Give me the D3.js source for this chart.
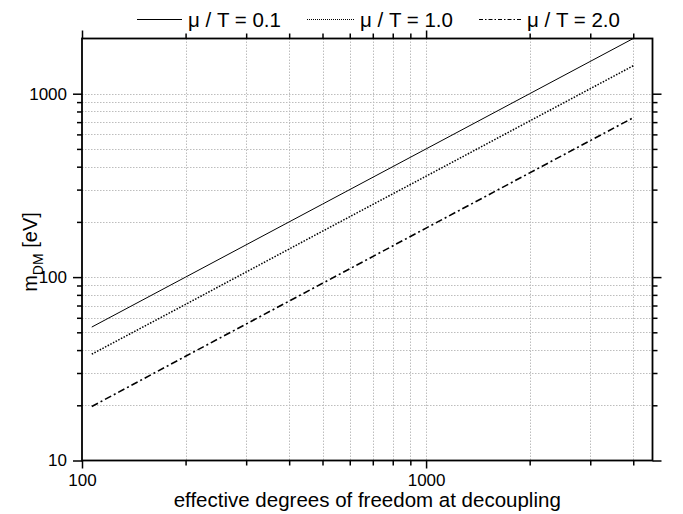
<!DOCTYPE html>
<html>
<head>
<meta charset="utf-8">
<script src="https://cdn.jsdelivr.net/npm/d3@7"></script>
<style>
  html, body { margin: 0; padding: 0; background: #fff; }
  svg { display: block; }
  text { font-family: "Liberation Sans", Arial, sans-serif; fill: #000; }
</style>
</head>
<body>
<svg id="chart" width="683" height="514"></svg>
<script>
// effective degrees of freedom at decoupling (g*)
const gStar = [106.75, 200, 500, 1000, 2000, 4000];
// dark matter mass in eV for each chemical potential ratio
const mMu01 = [53.4, 100, 250, 500, 1000, 2000];
const mMu10 = [38.0, 71, 178, 355, 710, 1420];
const mMu20 = [19.7, 37, 92.5, 185, 370, 740];
const seriesNames = ["μ / T = 0.1", "μ / T = 1.0", "μ / T = 2.0"];

const xMajor = [100, 1000];
const xMinor = [200, 300, 400, 500, 600, 700, 800, 900, 2000, 3000, 4000];
const yMajor = [10, 100, 1000];
const yMinor = [20, 30, 40, 50, 60, 70, 80, 90, 200, 300, 400, 500, 600, 700, 800, 900];

const svg = d3.select("#chart");
const L = 82, R = 652.5, T = 38.5, B = 460.5;

const x = d3.scaleLog().domain([100, 4550]).range([L, R]);
const y = d3.scaleLog().domain([10, 2000]).range([B, T]);

// grid
const grid = svg.append("g").attr("stroke", "#bdbdbd").attr("stroke-width", 1)
  .attr("stroke-dasharray", "1.5,1.5");
grid.selectAll("line.gx").data(xMinor.concat([1000])).join("line")
  .attr("x1", d => Math.round(x(d)) + 0.5).attr("x2", d => Math.round(x(d)) + 0.5)
  .attr("y1", T).attr("y2", B);
grid.selectAll("line.gy").data(yMinor.concat([100, 1000])).join("line")
  .attr("y1", d => Math.round(y(d)) + 0.5).attr("y2", d => Math.round(y(d)) + 0.5)
  .attr("x1", L).attr("x2", R);

// curves
const styles = [
  { dash: null, width: 1 },
  { dash: "1.5,1.5", width: 1.5 },
  { dash: "7,3,2,3", width: 1.6 }
];
const series = [mMu01, mMu10, mMu20];
const line = d3.line().x(d => x(d[0])).y(d => y(d[1]));
series.forEach((vals, i) => {
  svg.append("path")
    .datum(gStar.map((g, j) => [g, vals[j]]))
    .attr("d", line)
    .attr("fill", "none")
    .attr("stroke", "#000")
    .attr("stroke-width", styles[i].width)
    .attr("stroke-dasharray", styles[i].dash);
});

// axes: major and minor ticks pointing outward on every side
function styleAxis(g) {
  g.select(".domain").remove();
  g.selectAll(".tick line").attr("stroke", "#000").attr("stroke-width", 1.5);
  g.selectAll(".tick text").attr("font-size", 17).attr("font-family", "Liberation Sans, Arial, sans-serif");
}
const fmt = d3.format("d");
svg.append("g").attr("transform", `translate(0,${B})`)
  .call(d3.axisBottom(x).tickValues(xMajor).tickSize(8).tickPadding(5).tickFormat(fmt)).call(styleAxis);
svg.append("g").attr("transform", `translate(0,${B})`)
  .call(d3.axisBottom(x).tickValues(xMinor).tickSize(5).tickFormat("")).call(styleAxis);
svg.append("g").attr("transform", `translate(0,${T})`)
  .call(d3.axisTop(x).tickValues(xMajor).tickSize(8).tickFormat("")).call(styleAxis);
svg.append("g").attr("transform", `translate(0,${T})`)
  .call(d3.axisTop(x).tickValues(xMinor).tickSize(5).tickFormat("")).call(styleAxis);
svg.append("g").attr("transform", `translate(${L},0)`)
  .call(d3.axisLeft(y).tickValues(yMajor).tickSize(9).tickPadding(6).tickFormat(fmt)).call(styleAxis);
svg.append("g").attr("transform", `translate(${L},0)`)
  .call(d3.axisLeft(y).tickValues(yMinor).tickSize(5).tickFormat("")).call(styleAxis);
svg.append("g").attr("transform", `translate(${R},0)`)
  .call(d3.axisRight(y).tickValues(yMajor).tickSize(9).tickFormat("")).call(styleAxis);
svg.append("g").attr("transform", `translate(${R},0)`)
  .call(d3.axisRight(y).tickValues(yMinor).tickSize(5).tickFormat("")).call(styleAxis);

// frame
svg.append("rect").attr("x", L).attr("y", T).attr("width", R - L).attr("height", B - T)
  .attr("fill", "none").attr("stroke", "#000").attr("stroke-width", 1.8);

// axis titles
svg.append("text").attr("x", (L + R) / 2).attr("y", 507)
  .attr("text-anchor", "middle").attr("font-size", 20.5)
  .text("effective degrees of freedom at decoupling");

const yt = svg.append("text")
  .attr("transform", `translate(37,252) rotate(-90)`)
  .attr("text-anchor", "middle").attr("font-size", 20);
yt.append("tspan").text("m");
yt.append("tspan").attr("font-size", 14).attr("dy", 6).text("DM");
yt.append("tspan").attr("dy", -6).text(" [eV]");

// legend
const legend = [
  { x0: 137, x1: 182, tx: 188 },
  { x0: 307, x1: 354, tx: 360 },
  { x0: 479, x1: 521, tx: 527 }
];
legend.forEach((lg, i) => {
  svg.append("line").attr("x1", lg.x0).attr("x2", lg.x1).attr("y1", 19.5).attr("y2", 19.5)
    .attr("stroke", "#000").attr("stroke-width", i === 0 ? 1 : 1.2)
    .attr("stroke-dasharray", i === 0 ? null : (i === 1 ? "1,1" : "4,2,1.5,2"));
  svg.append("text").attr("x", lg.tx).attr("y", 27).attr("font-size", 20.5)
    .text(seriesNames[i]);
});
</script>
</body>
</html>
